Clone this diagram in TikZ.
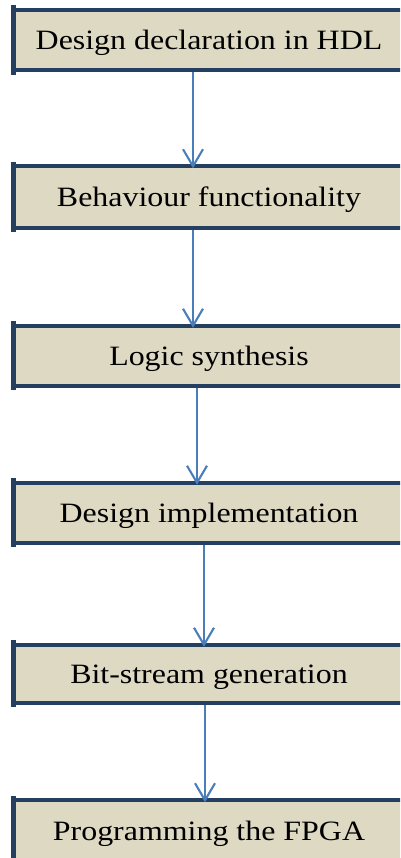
\documentclass[tikz,border=0pt]{standalone}
\usepackage{fontspec}
\setmainfont{Liberation Serif}[FakeStretch=1.14]
\usetikzlibrary{arrows.meta}
\definecolor{boxfill}{HTML}{DDD9C3}
\definecolor{boxline}{HTML}{243F60}
\definecolor{arrowblue}{HTML}{4A7EBB}
\tikzset{
  stagebox/.style={rectangle, fill=boxfill, draw=none, inner sep=0pt,
    minimum width=391pt, text height=23pt, text depth=3pt,
    font=\fontsize{28}{30}\selectfont},
  hline/.style={draw=boxline, line width=4pt},
  vline/.style={draw=boxline, line width=5pt, line cap=rect, shorten <=-2pt, shorten >=-2pt},
  flow/.style={draw=arrowblue, line width=2.1pt, -{Straight Barb[length=17pt,width=20pt,line width=2.1pt]}}
}
\begin{document}
\begin{tikzpicture}[x=1pt,y=-1pt]
\useasboundingbox (0,0) rectangle (400,858);
\clip (0,0) rectangle (400,858);
\node[stagebox, minimum height=60pt]   (b1) at (209,40)     {Design declaration in HDL};
\node[stagebox, minimum height=61pt]   (b2) at (209,197)    {Behaviour functionality};
\node[stagebox, minimum height=59.5pt] (b3) at (209,355.75) {Logic synthesis};
\node[stagebox, minimum height=59.5pt] (b4) at (209,512.75) {Design implementation};
\node[stagebox, minimum height=57.5pt] (b5) at (209,673.75) {Bit-stream generation};
\node[stagebox, minimum height=60.5pt] (b6) at (209,830.75) {Programming the FPGA};
\foreach \b in {b1,b2,b3,b4,b5,b6}{
  \draw[hline] (\b.north west) -- (\b.north east);
  \draw[hline] (\b.south west) -- (\b.south east);
  \draw[vline] (\b.north west) -- (\b.south west);
}
\draw[flow] ([xshift=-16pt,yshift=-2pt]b1.south) -- ([xshift=-16pt,yshift=-2pt]b2.north);
\draw[flow] ([xshift=-16pt,yshift=-2pt]b2.south) -- ([xshift=-16pt,yshift=-2pt]b3.north);
\draw[flow] ([xshift=-12pt,yshift=-2pt]b3.south) -- ([xshift=-12pt,yshift=-2pt]b4.north);
\draw[flow] ([xshift=-5pt,yshift=-2pt]b4.south) -- ([xshift=-5pt,yshift=-2pt]b5.north);
\draw[flow] ([xshift=-4pt,yshift=-2pt]b5.south) -- ([xshift=-4pt,yshift=-2pt]b6.north);
\end{tikzpicture}
\end{document}
